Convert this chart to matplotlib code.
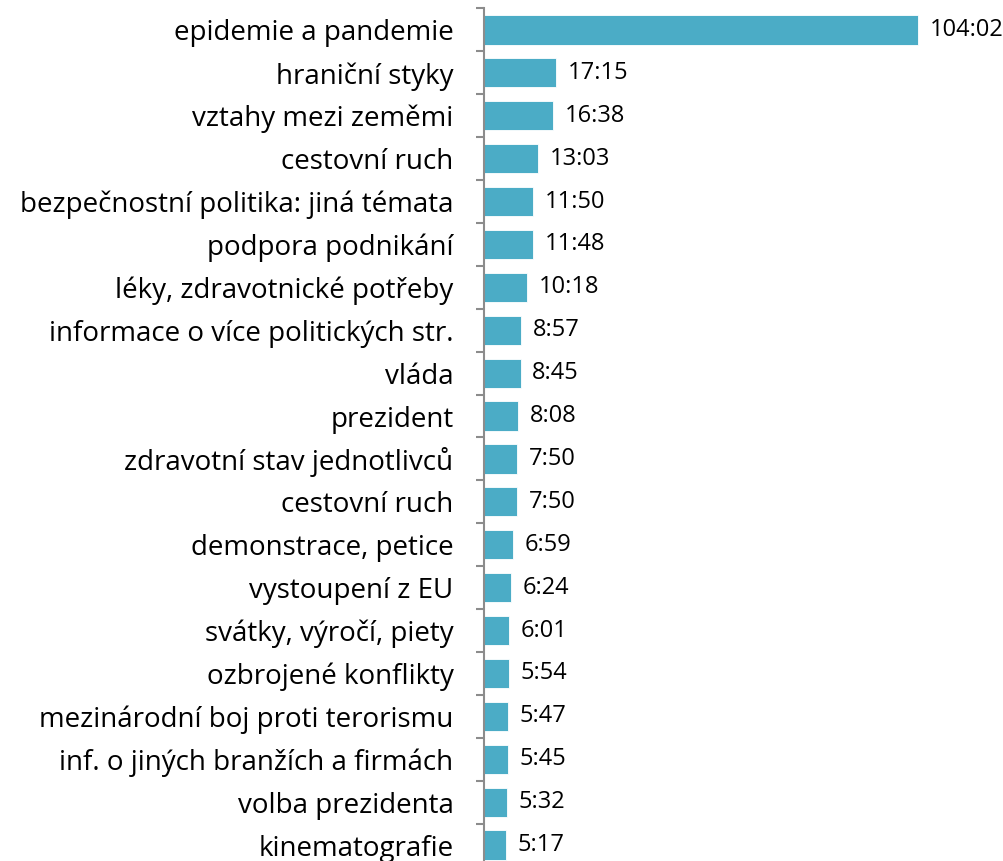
import matplotlib
matplotlib.use("Agg")
from matplotlib import pyplot as plt
import numpy as np

# === Data ===
categories = [
    "epidemie a pandemie",
    "hraniční styky",
    "vztahy mezi zeměmi",
    "cestovní ruch",
    "bezpečnostní politika: jiná témata",
    "podpora podnikání",
    "léky, zdravotnické potřeby",
    "informace o více politických str.",
    "vláda",
    "prezident",
    "zdravotní stav jednotlivců",
    "cestovní ruch",
    "demonstrace, petice",
    "vystoupení z EU",
    "svátky, výročí, piety",
    "ozbrojené konflikty",
    "mezinárodní boj proti terorismu",
    "inf. o jiných branžích a firmách",
    "volba prezidenta",
    "kinematografie",
]
durations = [
    "104:02", "17:15", "16:38", "13:03", "11:50", "11:48", "10:18", "8:57",
    "8:45", "8:08", "7:50", "7:50", "6:59", "6:24", "6:01", "5:54", "5:47",
    "5:45", "5:32", "5:17",
]

BAR_COLOR = "#4BACC6"
AXIS_COLOR = "#8C8C8C"

minutes = [int(d.split(":")[0]) + int(d.split(":")[1]) / 60 for d in durations]

plt.rcParams["font.family"] = ["Open Sans", "DejaVu Sans"]

fig = plt.figure(figsize=(10.04, 8.61), dpi=100)
ax = fig.add_axes([484 / 1004, -5.5 / 861, 520 / 1004, 858 / 861])

y = np.arange(len(categories))
ax.barh(y, minutes, height=0.68, color=BAR_COLOR, edgecolor="white", linewidth=0.6)

ax.set_xlim(0, 104.033 * 520 / 434)
ax.set_ylim(len(categories) - 0.5, -0.5)

for yi, m, d in zip(y, minutes, durations):
    ax.annotate(d, xy=(m, yi), xytext=(8.5, 0), textcoords="offset points",
                ha="left", va="center", fontsize=17, color="black")

ax.set_yticks(y)
ax.set_yticklabels(categories, fontsize=20)
ax.set_yticks(np.arange(-0.5, len(categories), 1), minor=True)
ax.tick_params(axis="y", which="major", length=0, pad=22)
ax.tick_params(axis="y", which="minor", length=6, width=1.5, color=AXIS_COLOR)
ax.set_xticks([])

for side in ["top", "right", "bottom"]:
    ax.spines[side].set_visible(False)
ax.spines["left"].set_color(AXIS_COLOR)
ax.spines["left"].set_linewidth(1.5)

fig.savefig("out.png", dpi=100, facecolor="white")
plt.close()
